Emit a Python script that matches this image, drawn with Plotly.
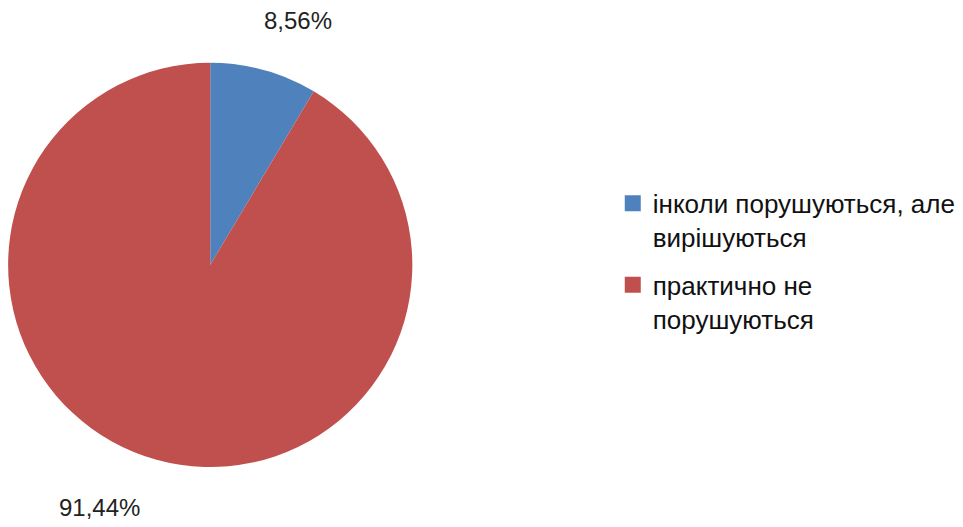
import plotly.graph_objects as go

labels = ["інколи порушуються, але<br>вирішуються", "практично не<br>порушуються"]
values = [8.56, 91.44]
colors = ["#4F81BD", "#C0504D"]

def fmt(v):
    return f"{v:.2f}".replace(".", ",") + "%"

FONT = "Liberation Sans, Arial"

fig = go.Figure()
fig.add_trace(go.Pie(
    labels=labels,
    values=values,
    marker=dict(colors=colors, line=dict(width=0)),
    sort=False,
    direction="clockwise",
    rotation=0,
    textinfo="none",
    hoverinfo="label+percent",
    showlegend=False,
    domain=dict(x=[0.0, 0.42], y=[0.129, 0.896]),
))

# legend entries (square swatches like the original)
for lab, col in zip(labels, colors):
    fig.add_trace(go.Scatter(
        x=[None], y=[None], mode="markers", name=lab, legendgroup=lab,
        marker=dict(symbol="square", size=20, color=col),
        showlegend=True, hoverinfo="skip",
    ))

fig.add_annotation(text=fmt(values[0]), x=0.301, y=0.977, xref="paper", yref="paper",
                   xanchor="center", yanchor="middle",
                   showarrow=False, font=dict(family=FONT, size=24, color="#222"))
fig.add_annotation(text=fmt(values[1]), x=0.0955, y=0.053, xref="paper", yref="paper",
                   xanchor="center", yanchor="middle",
                   showarrow=False, font=dict(family=FONT, size=24, color="#222"))

fig.update_layout(
    width=963, height=527,
    margin=dict(l=0, r=0, t=0, b=0),
    paper_bgcolor="white", plot_bgcolor="white",
    xaxis=dict(visible=False), yaxis=dict(visible=False),
    showlegend=True,
    legend=dict(x=0.628, y=0.674, xanchor="left", yanchor="top",
                font=dict(family=FONT, size=26, color="#111"),
                tracegroupgap=11, itemsizing="trace", valign="top"),
)
fig.write_html("out.html")
